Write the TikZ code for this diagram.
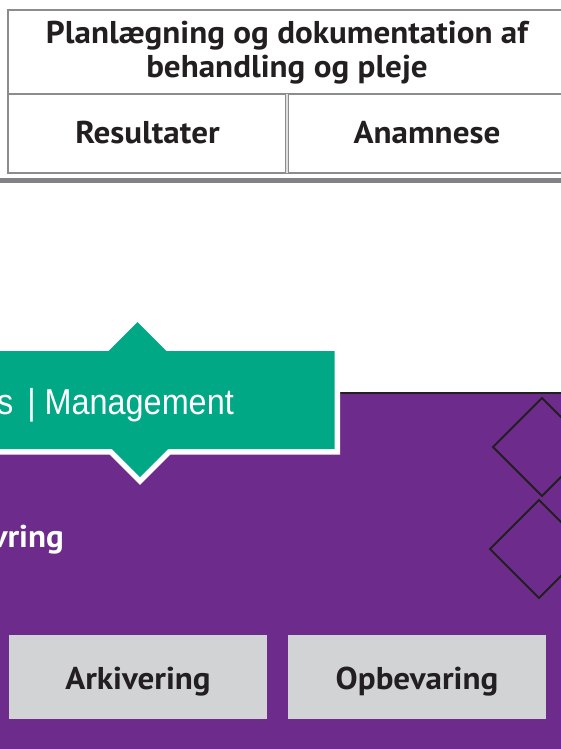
\documentclass[tikz,border=0pt]{standalone}
\usepackage{fontspec}
\newfontfamily\lblfont[FakeStretch=1.05]{PT Sans}
\newfontfamily\mgmtfont[FakeStretch=0.9]{Liberation Sans}
\definecolor{inkdark}{RGB}{35,31,32}
\definecolor{tblgray}{RGB}{140,140,140}
\definecolor{rulegray}{RGB}{128,130,133}
\definecolor{mgreen}{RGB}{0,168,134}
\definecolor{mpurple}{RGB}{109,44,140}
\definecolor{boxgray}{RGB}{209,211,212}
\tikzset{
  tblline/.style={draw=tblgray, line width=1.8pt},
  lbl/.style={inner sep=0pt, text=inkdark, font=\lblfont\bfseries\fontsize{31.5}{36}\selectfont},
  whitelbl/.style={lbl, text=white},
  graybox/.style={fill=boxgray, draw=none},
  rhomb/.style={draw=inkdark, line width=2pt, miter limit=10},
}
\begin{document}
\begin{tikzpicture}[x=1pt,y=-1pt]
\useasboundingbox (0,0) rectangle (561,749);
\fill[white] (0,0) rectangle (561,749);
\clip (0,0) rectangle (561,749);
% ---- table ----
\draw[tblline] (575,10) -- (8,10) -- (8,173) -- (575,173);
\draw[tblline] (8,94) -- (575,94);
\draw[draw=tblgray, line width=1.2pt, double=gray!25, double distance=1.2pt] (287,94) -- (287,173);
\node[lbl, anchor=base] (hdrA) at (287,44) {Planlægning og dokumentation af};
\node[lbl, anchor=base] (hdrB) at (287,78) {behandling og pleje};
\node[lbl, anchor=base] (res) at (147.5,143) {Resultater};
\node[lbl, anchor=base] (ana) at (427,143) {Anamnese};
% thick rule
\draw[draw=rulegray, line width=5pt] (0,180) -- (561,180);
% ---- purple panel ----
\fill[mpurple] (-5,393) rectangle (566,760);
\draw[draw=inkdark, line width=2pt] (-5,393) -- (566,393);
% diamonds
\draw[rhomb] (542,398) -- (591,447) -- (542,496) -- (493,447) -- cycle;
\draw[rhomb] (539,500) -- (588,549) -- (539,598) -- (490,549) -- cycle;
% ---- green banner ----
\draw[white, line width=11pt, line join=miter, miter limit=10]
  (-20,351) -- (108.5,351) -- (137.5,322) -- (166.5,351) -- (334.5,351) -- (334.5,449) -- (168,449) -- (140,477) -- (112,449) -- (-20,449) -- cycle;
\fill[mgreen]
  (-20,351) -- (108.5,351) -- (137.5,322) -- (166.5,351) -- (334.5,351) -- (334.5,449) -- (168,449) -- (140,477) -- (112,449) -- (-20,449) -- cycle;
\node[inner sep=0pt, text=white, font=\mgmtfont\fontsize{36}{40}\selectfont, anchor=base east] (mgmt) at (234,414) {s\hspace{5pt} | Management};
\node[whitelbl, anchor=base east] (vring) at (64,547) {vring};
% ---- gray boxes ----
\node[graybox, minimum width=258pt, minimum height=84pt, inner sep=0pt] (arkbox) at (138,677) {};
\node[graybox, minimum width=258pt, minimum height=84pt, inner sep=0pt] (opbbox) at (417,677) {};
\node[lbl, anchor=base] (ark) at (138,689) {Arkivering};
\node[lbl, anchor=base] (opb) at (417,689) {Opbevaring};
\end{tikzpicture}
\end{document}
